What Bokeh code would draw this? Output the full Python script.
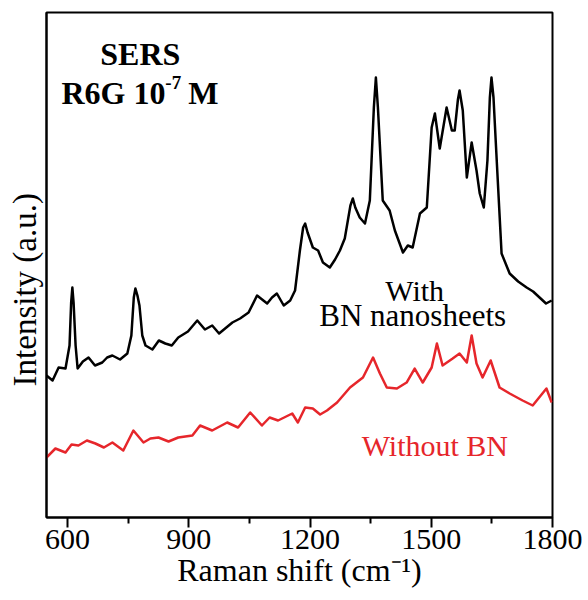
from bokeh.plotting import figure
from bokeh.models import Range1d, FixedTicker, Label
from bokeh.embed import file_html
from bokeh.resources import INLINE

# Raman shift (cm-1) and intensity (a.u.)
with_bn_x = [548, 563, 578, 595, 605, 609, 612, 615, 620, 625, 638, 652, 668, 686, 698, 711, 730, 748,
             758, 764, 768, 773, 778, 785, 793, 810, 826, 842, 858, 874, 898, 921, 940, 958, 975, 990,
             1008, 1027, 1048, 1069, 1094, 1106, 1118, 1135, 1151, 1163, 1175, 1183, 1188, 1194, 1207,
             1220, 1232, 1249, 1262, 1274, 1286, 1300, 1306, 1312, 1323, 1336, 1348, 1358, 1363, 1368, 1380, 1397,
             1410, 1430, 1442, 1454, 1472, 1489, 1501, 1509, 1521, 1538, 1551, 1558, 1566, 1570,
             1578, 1588, 1600, 1612, 1620, 1630, 1639, 1645, 1649, 1654, 1662, 1674, 1694, 1715, 1736,
             1752, 1768, 1784, 1798]
with_bn_y = [142, 137, 150, 149, 172, 215, 230, 215, 172, 149, 156, 160, 152, 155, 160, 162, 158, 164,
             182, 220, 229, 222, 212, 182, 172, 168, 177, 174, 172, 180, 186, 197, 188, 192, 184, 189,
             195, 199, 205, 222, 214, 220, 224, 212, 217, 227, 267, 290, 294, 285, 270,
             267, 255, 250, 258, 267, 279, 312, 319, 310, 300, 294, 317, 410, 440, 410, 317, 307,
             287, 265, 272, 270, 304, 310, 390, 404, 369, 410, 387, 387, 418, 427,
             407, 340, 375, 347, 324, 310, 357, 420, 440, 420, 357, 264, 244, 236, 230,
             226, 220, 214, 217]

without_bn_x = [548, 570, 595, 610, 627, 648, 669, 690, 711, 738, 763, 788, 805, 825, 850, 874,
                909, 928, 958, 995, 1022, 1052, 1081, 1100, 1121, 1156, 1170, 1188, 1207, 1225,
                1242, 1267, 1299, 1331, 1356, 1373, 1390, 1415, 1439, 1459, 1479, 1501, 1514,
                1528, 1553, 1570, 1588, 1600, 1612, 1627, 1647, 1669, 1694, 1726, 1751, 1785,
                1798]
without_bn_y = [60, 69, 65, 73, 72, 77, 74, 70, 75, 67, 87, 75, 79, 80, 76, 80,
                82, 92, 87, 95, 90, 105, 92, 100, 97, 104, 95, 110, 109, 103,
                107, 115, 130, 140, 160, 144, 130, 129, 135, 149, 135, 150, 174,
                152, 159, 164, 155, 182, 154, 140, 157, 130, 124, 117, 112, 129,
                115]

x_major = [600, 900, 1200, 1500, 1800]
x_minor = [750, 1050, 1350, 1650]

FONT = "Liberation Serif"
RED = "#e6262b"

p = figure(width=588, height=600, output_backend="svg", toolbar_location=None,
           x_range=Range1d(548, 1800), y_range=Range1d(0, 505),
           min_border_left=46, min_border_right=36, min_border_top=12, min_border_bottom=83)
p.background_fill_color = "white"
p.border_fill_color = "white"
p.outline_line_color = "black"
p.outline_line_width = 2
p.xgrid.visible = False
p.ygrid.visible = False

p.line(with_bn_x, with_bn_y, line_color="black", line_width=2.5, line_join="round")
p.line(without_bn_x, without_bn_y, line_color=RED, line_width=2.5, line_join="round")

xa = p.xaxis[0]
xa.ticker = FixedTicker(ticks=x_major, minor_ticks=x_minor)
xa.axis_line_width = 2
xa.major_tick_line_width = 2
xa.minor_tick_line_width = 2
xa.major_tick_out = 10
xa.major_tick_in = 0
xa.minor_tick_out = 6
xa.minor_tick_in = 0
xa.major_label_text_font = FONT
xa.major_label_text_font_size = "30px"
xa.major_label_text_color = "black"
xa.major_label_standoff = 2
xa.axis_label = "Raman shift (cm⁻¹)"
xa.axis_label_text_font = FONT
xa.axis_label_text_font_size = "32px"
xa.axis_label_text_font_style = "normal"
xa.axis_label_text_color = "black"
xa.axis_label_standoff = 0

ya = p.yaxis[0]
ya.ticker = FixedTicker(ticks=[])
ya.axis_line_width = 2
ya.major_tick_out = 0
ya.major_tick_in = 0
ya.minor_tick_out = 0
ya.minor_tick_in = 0
ya.major_label_standoff = 0
# trailing no-break spaces push the label below the frame centre, as in the reference
ya.axis_label = "Intensity (a.u.)" + "\u00a0" * 6
ya.axis_label_text_font = FONT
ya.axis_label_text_font_size = "33px"
ya.axis_label_text_font_style = "normal"
ya.axis_label_text_color = "black"
ya.axis_label_standoff = 4

def lab(x, y, text, size, color="black", style="normal", align="left"):
    p.add_layout(Label(x=x, y=y, text=text, text_font=FONT, text_font_size=size,
                       text_color=color, text_font_style=style, text_align=align,
                       text_baseline="alphabetic"))

lab(780, 464, "SERS", "32px", style="bold", align="center")
lab(585, 425, "R6G 10", "32px", style="bold")
lab(842, 435, "-7", "19px", style="bold")
lab(899, 425, "M", "32px", style="bold")
lab(1459, 227, "With", "30px", align="center")
lab(1454, 202, "BN nanosheets", "31px", align="center")
lab(1509, 72, "Without BN", "30px", color=RED, align="center")

open("out.html", "w").write(file_html(p, INLINE))
